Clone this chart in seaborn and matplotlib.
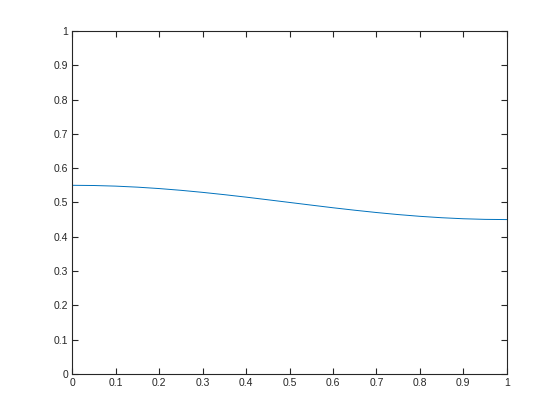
import matplotlib
matplotlib.use("Agg")
import matplotlib.pyplot as plt
import seaborn as sns
import pandas as pd

# values
x_vals = [0.0, 0.05, 0.1, 0.15, 0.2, 0.25, 0.3, 0.35, 0.4, 0.45, 0.5,
          0.55, 0.6, 0.65, 0.7, 0.75, 0.8, 0.85, 0.9, 0.95, 1.0]
y_vals = [0.5500, 0.5494, 0.5476, 0.5446, 0.5405, 0.5354, 0.5294, 0.5227, 0.5155, 0.5078, 0.5000,
          0.4922, 0.4845, 0.4773, 0.4706, 0.4646, 0.4595, 0.4554, 0.4524, 0.4506, 0.4500]
ticks = [0, 0.1, 0.2, 0.3, 0.4, 0.5, 0.6, 0.7, 0.8, 0.9, 1]
tick_labels = ["0", "0.1", "0.2", "0.3", "0.4", "0.5", "0.6", "0.7", "0.8", "0.9", "1"]

df = pd.DataFrame({"x": x_vals, "y": y_vals})

sns.set_style("ticks")
plt.rcParams["font.family"] = ["Liberation Sans", "DejaVu Sans"]

fig = plt.figure(figsize=(5.6, 4.2), dpi=100)
ax = fig.add_axes([0.129, 0.11, 0.776, 0.816])
sns.lineplot(data=df, x="x", y="y", ax=ax, color="#0072BD", linewidth=0.7)

ax.set_xlim(0, 1)
ax.set_ylim(0, 1)
ax.set_xticks(ticks)
ax.set_xticklabels(tick_labels)
ax.set_yticks(ticks)
ax.set_yticklabels(tick_labels)
ax.set_xlabel("")
ax.set_ylabel("")
for s in ax.spines.values():
    s.set_visible(True)
    s.set_linewidth(0.8)
    s.set_color("#262626")
ax.tick_params(direction="in", length=4, width=0.8, labelsize=7.5,
               top=True, right=True, colors="#262626", pad=3)

fig.savefig("out.png", dpi=100, facecolor="white")
